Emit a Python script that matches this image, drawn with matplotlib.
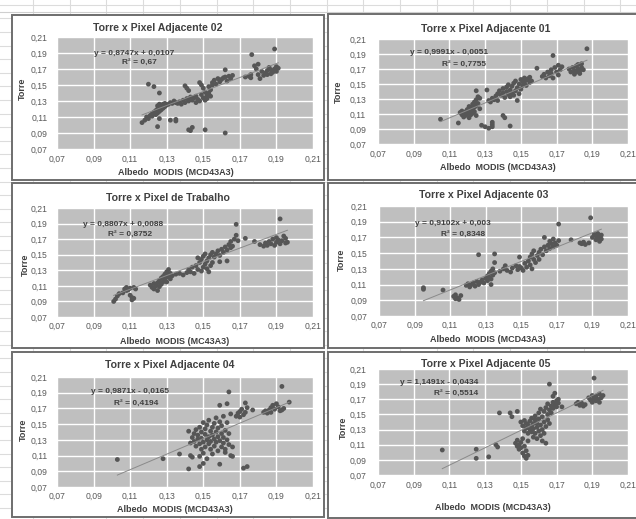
import numpy as np
import matplotlib
matplotlib.use('Agg')
import matplotlib.pyplot as plt
from matplotlib.patches import Rectangle
from matplotlib.ticker import FuncFormatter

plt.rcParams['font.family'] = ['Liberation Sans Narrow', 'Liberation Sans', 'DejaVu Sans']

# ---- dados (Albedo MODIS, Torre) ----
titulos = ['Torre x Pixel Adjacente 02', 'Torre x Pixel Adjacente 01',
           'Torre x Pixel de Trabalho', 'Torre x Pixel Adjacente 03',
           'Torre x Pixel Adjacente 04', 'Torre x Pixel Adjacente 05']
rotulos_x = ['Albedo  MODIS (MCD43A3)', 'Albedo  MODIS (MCD43A3)',
             'Albedo  MODIS (MC43A3)', 'Albedo  MODIS (MCD43A3)',
             'Albedo  MODIS (MCD43A3)', 'Albedo  MODIS (MCD43A3)']
equacoes = ['y = 0,8747x + 0,0107', 'y = 0,9991x - 0,0051', 'y = 0,8807x + 0,0088',
            'y = 0,9102x + 0,003', 'y = 0,9871x - 0,0165', 'y = 1,1491x - 0,0434']
r2 = ['R² = 0,67', 'R² = 0,7755', 'R² = 0,8752', 'R² = 0,8348', 'R² = 0,4194', 'R² = 0,5514']
inclinacao = [0.8747, 0.9991, 0.8807, 0.9102, 0.9871, 1.1491]
intercepto = [0.0107, -0.0051, 0.0088, 0.003, -0.0165, -0.0434]
ticks = [0.07, 0.09, 0.11, 0.13, 0.15, 0.17, 0.19, 0.21]

pontos_adj02 = [
    (0.1165, 0.103), (0.118, 0.106), (0.119, 0.110), (0.120, 0.108), (0.121, 0.112), (0.122, 0.111),
    (0.122, 0.114), (0.123, 0.116), (0.124, 0.113), (0.124, 0.118), (0.125, 0.115), (0.125, 0.120),
    (0.126, 0.117), (0.126, 0.122), (0.127, 0.119), (0.127, 0.124), (0.128, 0.121), (0.128, 0.126),
    (0.129, 0.123), (0.129, 0.127), (0.130, 0.125), (0.131, 0.126), (0.126, 0.126), (0.125, 0.124),
    (0.120, 0.151), (0.123, 0.148), (0.126, 0.140), (0.125, 0.098), (0.126, 0.108), (0.132, 0.106),
    (0.135, 0.107), (0.135, 0.105), (0.142, 0.094), (0.143, 0.093), (0.144, 0.097), (0.151, 0.094),
    (0.162, 0.090), (0.132, 0.128), (0.133, 0.127), (0.134, 0.130), (0.135, 0.128), (0.136, 0.127),
    (0.137, 0.129), (0.138, 0.126), (0.139, 0.131), (0.140, 0.128), (0.141, 0.133), (0.142, 0.130),
    (0.143, 0.135), (0.144, 0.131), (0.145, 0.134), (0.140, 0.149), (0.141, 0.146), (0.142, 0.143),
    (0.146, 0.136), (0.147, 0.132), (0.148, 0.153), (0.149, 0.150), (0.149, 0.138), (0.150, 0.134),
    (0.150, 0.146), (0.151, 0.131), (0.151, 0.141), (0.152, 0.137), (0.152, 0.133), (0.153, 0.140),
    (0.153, 0.148), (0.154, 0.136), (0.154, 0.144), (0.155, 0.150), (0.155, 0.153), (0.148, 0.130),
    (0.146, 0.128), (0.156, 0.156), (0.157, 0.151), (0.158, 0.158), (0.159, 0.154), (0.160, 0.157),
    (0.161, 0.159), (0.162, 0.169), (0.162, 0.160), (0.163, 0.155), (0.164, 0.161), (0.165, 0.158),
    (0.166, 0.162), (0.173, 0.160), (0.175, 0.161), (0.176, 0.159), (0.1765, 0.188), (0.178, 0.174),
    (0.179, 0.170), (0.180, 0.176), (0.180, 0.163), (0.181, 0.158), (0.182, 0.167), (0.183, 0.162),
    (0.184, 0.165), (0.185, 0.163), (0.185, 0.168), (0.186, 0.172), (0.189, 0.195), (0.187, 0.164),
    (0.187, 0.169), (0.188, 0.166), (0.189, 0.170), (0.190, 0.167), (0.190, 0.173), (0.191, 0.171),
    (0.176, 0.163)]

pontos_adj01 = [
    (0.105, 0.103), (0.115, 0.098), (0.116, 0.112), (0.117, 0.109), (0.117, 0.114), (0.118, 0.106),
    (0.118, 0.111), (0.119, 0.113), (0.119, 0.108), (0.120, 0.116), (0.120, 0.110), (0.121, 0.105),
    (0.121, 0.112), (0.121, 0.120), (0.122, 0.114), (0.122, 0.118), (0.122, 0.109), (0.123, 0.123),
    (0.123, 0.111), (0.123, 0.116), (0.124, 0.126), (0.124, 0.113), (0.124, 0.119), (0.125, 0.129),
    (0.125, 0.141), (0.125, 0.108), (0.125, 0.121), (0.126, 0.124), (0.126, 0.133), (0.127, 0.131),
    (0.127, 0.117), (0.128, 0.095), (0.130, 0.093), (0.132, 0.091), (0.134, 0.096), (0.134, 0.093),
    (0.134, 0.099), (0.140, 0.108), (0.141, 0.105), (0.144, 0.094), (0.131, 0.142), (0.132, 0.128),
    (0.133, 0.126), (0.134, 0.131), (0.135, 0.129), (0.136, 0.134), (0.137, 0.128), (0.137, 0.137),
    (0.138, 0.141), (0.139, 0.135), (0.140, 0.144), (0.140, 0.138), (0.141, 0.132), (0.142, 0.140),
    (0.142, 0.146), (0.143, 0.136), (0.143, 0.149), (0.144, 0.142), (0.144, 0.133), (0.145, 0.138),
    (0.145, 0.147), (0.146, 0.151), (0.146, 0.135), (0.147, 0.141), (0.147, 0.154), (0.148, 0.128),
    (0.148, 0.145), (0.149, 0.150), (0.149, 0.137), (0.150, 0.156), (0.150, 0.143), (0.151, 0.148),
    (0.151, 0.153), (0.152, 0.158), (0.152, 0.151), (0.153, 0.155), (0.153, 0.148), (0.154, 0.157),
    (0.155, 0.152), (0.155, 0.159), (0.156, 0.154), (0.159, 0.171), (0.162, 0.160), (0.163, 0.163),
    (0.164, 0.158), (0.165, 0.166), (0.166, 0.161), (0.167, 0.169), (0.167, 0.164), (0.168, 0.188),
    (0.168, 0.158), (0.169, 0.172), (0.170, 0.166), (0.171, 0.162), (0.171, 0.175), (0.172, 0.169),
    (0.173, 0.173), (0.177, 0.170), (0.178, 0.166), (0.179, 0.172), (0.180, 0.168), (0.180, 0.163),
    (0.181, 0.174), (0.181, 0.166), (0.182, 0.170), (0.182, 0.176), (0.183, 0.164), (0.183, 0.168),
    (0.184, 0.172), (0.184, 0.177), (0.185, 0.169), (0.187, 0.197)]

pontos_trabalho = [
    (0.101, 0.090), (0.102, 0.093), (0.103, 0.097), (0.104, 0.100), (0.106, 0.101), (0.107, 0.106),
    (0.108, 0.104), (0.108, 0.108), (0.109, 0.105), (0.110, 0.107), (0.110, 0.098), (0.111, 0.095),
    (0.111, 0.092), (0.112, 0.094), (0.112, 0.108), (0.113, 0.106), (0.121, 0.111), (0.122, 0.108),
    (0.123, 0.113), (0.123, 0.106), (0.124, 0.110), (0.125, 0.114), (0.125, 0.104), (0.126, 0.109),
    (0.126, 0.117), (0.127, 0.112), (0.127, 0.120), (0.128, 0.115), (0.128, 0.122), (0.129, 0.118),
    (0.129, 0.125), (0.130, 0.121), (0.130, 0.128), (0.131, 0.124), (0.131, 0.131), (0.132, 0.126),
    (0.132, 0.119), (0.133, 0.123), (0.130, 0.115), (0.135, 0.125), (0.137, 0.126), (0.139, 0.124),
    (0.141, 0.127), (0.142, 0.131), (0.143, 0.128), (0.144, 0.134), (0.145, 0.126), (0.146, 0.136),
    (0.147, 0.131), (0.147, 0.146), (0.148, 0.140), (0.149, 0.129), (0.149, 0.144), (0.150, 0.134),
    (0.150, 0.148), (0.151, 0.138), (0.151, 0.151), (0.152, 0.132), (0.152, 0.142), (0.153, 0.146),
    (0.153, 0.128), (0.154, 0.136), (0.154, 0.150), (0.155, 0.140), (0.155, 0.153), (0.156, 0.147),
    (0.157, 0.151), (0.158, 0.155), (0.159, 0.141), (0.159, 0.149), (0.160, 0.157), (0.161, 0.153),
    (0.162, 0.160), (0.163, 0.142), (0.163, 0.156), (0.164, 0.163), (0.165, 0.159), (0.165, 0.167),
    (0.166, 0.161), (0.167, 0.170), (0.168, 0.175), (0.168, 0.189), (0.169, 0.168), (0.173, 0.171),
    (0.178, 0.167), (0.181, 0.163), (0.183, 0.161), (0.184, 0.165), (0.185, 0.162), (0.186, 0.167),
    (0.187, 0.164), (0.188, 0.170), (0.189, 0.162), (0.190, 0.166), (0.190, 0.172), (0.191, 0.169),
    (0.192, 0.196), (0.192, 0.164), (0.193, 0.168), (0.194, 0.174), (0.195, 0.171), (0.195, 0.165),
    (0.196, 0.166)]

pontos_adj03 = [
    (0.095, 0.106), (0.095, 0.104), (0.106, 0.103), (0.112, 0.095), (0.113, 0.092), (0.113, 0.097),
    (0.114, 0.093), (0.115, 0.091), (0.116, 0.096), (0.119, 0.109), (0.120, 0.111), (0.121, 0.107),
    (0.122, 0.110), (0.123, 0.112), (0.124, 0.108), (0.125, 0.114), (0.126, 0.110), (0.127, 0.113),
    (0.126, 0.148), (0.128, 0.116), (0.129, 0.112), (0.130, 0.118), (0.131, 0.121), (0.131, 0.115),
    (0.132, 0.119), (0.132, 0.124), (0.133, 0.117), (0.133, 0.127), (0.134, 0.122), (0.134, 0.130),
    (0.135, 0.149), (0.135, 0.138), (0.135, 0.125), (0.133, 0.110), (0.138, 0.127), (0.140, 0.130),
    (0.141, 0.134), (0.142, 0.128), (0.144, 0.126), (0.145, 0.131), (0.147, 0.134), (0.148, 0.129),
    (0.149, 0.145), (0.149, 0.133), (0.150, 0.131), (0.151, 0.128), (0.152, 0.137), (0.153, 0.132),
    (0.154, 0.140), (0.155, 0.135), (0.155, 0.145), (0.156, 0.130), (0.156, 0.149), (0.157, 0.142),
    (0.157, 0.153), (0.158, 0.138), (0.159, 0.147), (0.160, 0.151), (0.160, 0.142), (0.161, 0.155),
    (0.162, 0.148), (0.163, 0.158), (0.163, 0.170), (0.164, 0.153), (0.165, 0.160), (0.166, 0.156),
    (0.166, 0.165), (0.167, 0.162), (0.168, 0.158), (0.168, 0.168), (0.169, 0.163), (0.170, 0.160),
    (0.171, 0.187), (0.171, 0.166), (0.178, 0.167), (0.183, 0.163), (0.184, 0.162), (0.185, 0.164),
    (0.186, 0.161), (0.188, 0.163), (0.189, 0.195), (0.190, 0.170), (0.191, 0.174), (0.192, 0.167),
    (0.192, 0.172), (0.193, 0.169), (0.193, 0.175), (0.194, 0.165), (0.194, 0.171), (0.195, 0.168),
    (0.195, 0.173)]

pontos_adj04 = [
    (0.103, 0.105), (0.128, 0.106), (0.137, 0.112), (0.142, 0.093), (0.143, 0.110), (0.144, 0.108),
    (0.148, 0.096), (0.150, 0.100), (0.159, 0.099), (0.142, 0.141), (0.143, 0.126), (0.144, 0.133),
    (0.145, 0.138), (0.145, 0.128), (0.146, 0.143), (0.146, 0.122), (0.147, 0.131), (0.147, 0.136),
    (0.148, 0.125), (0.148, 0.146), (0.148, 0.109), (0.149, 0.140), (0.149, 0.118), (0.149, 0.132),
    (0.150, 0.152), (0.150, 0.127), (0.150, 0.113), (0.151, 0.137), (0.151, 0.144), (0.151, 0.121),
    (0.152, 0.130), (0.152, 0.149), (0.152, 0.106), (0.153, 0.134), (0.153, 0.125), (0.153, 0.155),
    (0.154, 0.141), (0.154, 0.118), (0.154, 0.128), (0.155, 0.146), (0.155, 0.112), (0.155, 0.136),
    (0.156, 0.131), (0.156, 0.151), (0.156, 0.122), (0.157, 0.140), (0.157, 0.127), (0.157, 0.158),
    (0.158, 0.134), (0.158, 0.145), (0.158, 0.116), (0.159, 0.129), (0.159, 0.153), (0.159, 0.174),
    (0.160, 0.138), (0.160, 0.121), (0.160, 0.148), (0.161, 0.133), (0.161, 0.126), (0.161, 0.160),
    (0.162, 0.142), (0.162, 0.114), (0.162, 0.118), (0.163, 0.176), (0.163, 0.130), (0.163, 0.152),
    (0.164, 0.191), (0.164, 0.124), (0.164, 0.138), (0.165, 0.110), (0.165, 0.163), (0.166, 0.109),
    (0.166, 0.121), (0.168, 0.160), (0.169, 0.164), (0.170, 0.166), (0.170, 0.159), (0.171, 0.169),
    (0.172, 0.162), (0.172, 0.094), (0.173, 0.177), (0.173, 0.165), (0.174, 0.096), (0.174, 0.171),
    (0.177, 0.168), (0.183, 0.165), (0.184, 0.167), (0.185, 0.164), (0.186, 0.168), (0.187, 0.171),
    (0.187, 0.165), (0.188, 0.174), (0.189, 0.169), (0.190, 0.176), (0.191, 0.172), (0.192, 0.167),
    (0.193, 0.198), (0.193, 0.168), (0.194, 0.170), (0.197, 0.178)]

pontos_adj05 = [
    (0.106, 0.103), (0.125, 0.104), (0.125, 0.092), (0.132, 0.094), (0.136, 0.110), (0.137, 0.107),
    (0.138, 0.152), (0.144, 0.152), (0.145, 0.147), (0.148, 0.154), (0.147, 0.112), (0.148, 0.108),
    (0.148, 0.116), (0.149, 0.104), (0.149, 0.110), (0.150, 0.113), (0.150, 0.106), (0.151, 0.099),
    (0.151, 0.118), (0.152, 0.095), (0.152, 0.108), (0.153, 0.092), (0.153, 0.102), (0.154, 0.096),
    (0.154, 0.115), (0.150, 0.140), (0.151, 0.135), (0.152, 0.142), (0.152, 0.128), (0.153, 0.132),
    (0.153, 0.138), (0.154, 0.125), (0.154, 0.136), (0.155, 0.130), (0.155, 0.141), (0.156, 0.127),
    (0.156, 0.134), (0.156, 0.145), (0.157, 0.120), (0.157, 0.138), (0.157, 0.131), (0.158, 0.125),
    (0.158, 0.143), (0.158, 0.148), (0.159, 0.133), (0.159, 0.118), (0.159, 0.138), (0.160, 0.128),
    (0.160, 0.152), (0.160, 0.144), (0.161, 0.122), (0.161, 0.136), (0.161, 0.157), (0.162, 0.130),
    (0.162, 0.115), (0.162, 0.147), (0.163, 0.140), (0.163, 0.154), (0.163, 0.125), (0.164, 0.159),
    (0.164, 0.134), (0.164, 0.112), (0.165, 0.150), (0.165, 0.143), (0.165, 0.164), (0.166, 0.190),
    (0.166, 0.156), (0.166, 0.138), (0.167, 0.161), (0.167, 0.152), (0.168, 0.174), (0.168, 0.166),
    (0.168, 0.158), (0.169, 0.178), (0.169, 0.163), (0.170, 0.168), (0.170, 0.160), (0.171, 0.165),
    (0.173, 0.160), (0.171, 0.170), (0.181, 0.164), (0.182, 0.166), (0.183, 0.162), (0.184, 0.165),
    (0.185, 0.161), (0.186, 0.163), (0.188, 0.172), (0.189, 0.169), (0.190, 0.175), (0.190, 0.166),
    (0.191, 0.198), (0.191, 0.171), (0.192, 0.168), (0.192, 0.174), (0.193, 0.170), (0.194, 0.177),
    (0.194, 0.166), (0.195, 0.172), (0.196, 0.175)]

series = [pontos_adj02, pontos_adj01, pontos_trabalho, pontos_adj03, pontos_adj04, pontos_adj05]

# ---- layout em pixels (esq, topo, dir, base) ----
W, H = 636, 519
areas = [(57, 37, 313, 149), (378, 39, 628, 144),
         (57, 208, 313, 317), (379, 206, 628, 316),
         (57, 377, 313, 487), (378, 369, 628, 475)]
caixas = [(12, 15, 324, 180), (328, 14, 645, 180),
          (12, 183, 324, 348), (328, 183, 645, 348),
          (12, 352, 324, 517), (328, 352, 645, 518)]
pos_titulo = [(158, 28), (486, 29), (168, 198), (484, 195), (170, 365), (486, 364)]
pos_ylabel = [(22, 89), (338, 92), (25, 265), (341, 260), (23, 430), (343, 428)]
pos_xlabel = [(176, 173), (498, 167), (175, 342), (488, 339), (175, 510), (493, 508)]
pos_eq = [(0.30, 0.857, 0.32, 0.77), (0.284, 0.867, 0.344, 0.762), (0.258, 0.853, 0.285, 0.761),
          (0.297, 0.845, 0.337, 0.745), (0.285, 0.864, 0.31, 0.764), (0.244, 0.868, 0.312, 0.774)]
pad_x = [4.5, 4.5, 3.5, 3.5, 3.5, 4.5]
pad_y = [7, 8.5, 7, 8.5, 7, 8.5]

cinza_texto = '#404040'

fig = plt.figure(figsize=(W / 100, H / 100), dpi=100)

# fundo de planilha
fundo = fig.add_axes([0, 0, 1, 1])
fundo.set_xlim(0, W)
fundo.set_ylim(H, 0)
fundo.axis('off')
for xc in np.arange(33, W, 36.7):
    fundo.plot([xc, xc], [0, H], color='#dcdcdc', lw=0.8, zorder=0)
for yc in np.arange(4.7, H, 13.6):
    fundo.plot([0, W], [yc, yc], color='#dcdcdc', lw=0.8, zorder=0)
fundo.plot([0, W], [12, 12], color='#cfcfcf', lw=0.8, zorder=0)
for (l, t, r, b) in caixas:
    fundo.add_patch(Rectangle((l, t), r - l, b - t, facecolor='white',
                              edgecolor='#6e6e6e', lw=1.4, zorder=2))


def fmt(v, pos):
    return '{:.2f}'.format(v).replace('.', ',')


def px(x, y):
    return x / W, 1 - y / H


for i in range(6):
    l, t, r, b = areas[i]
    ax = fig.add_axes([l / W, 1 - b / H, (r - l) / W, (b - t) / H])
    ax.set_facecolor('#bfbfbf')
    ax.set_xlim(0.07, 0.21)
    ax.set_ylim(0.07, 0.21)
    ax.set_xticks(ticks)
    ax.set_yticks(ticks)
    ax.xaxis.set_major_formatter(FuncFormatter(fmt))
    ax.yaxis.set_major_formatter(FuncFormatter(fmt))
    ax.tick_params(length=0, labelsize=6.2, colors='#595959')
    ax.tick_params(axis='x', pad=pad_x[i])
    ax.tick_params(axis='y', pad=pad_y[i])
    ax.grid(True, color='white', lw=1.0)
    ax.set_axisbelow(True)
    for s in ax.spines.values():
        s.set_visible(False)

    dados = np.array(series[i])
    ax.scatter(dados[:, 0], dados[:, 1], s=12, color='#565656', edgecolors='none', zorder=3)
    xs = np.array([dados[:, 0].min(), dados[:, 0].max()])
    ax.plot(xs, inclinacao[i] * xs + intercepto[i], color='#8a8a8a', lw=0.7, zorder=4)

    ex, ey, rx, ry = pos_eq[i]
    ax.text(ex, ey, equacoes[i], transform=ax.transAxes, ha='center', va='center',
            fontsize=6, fontweight='bold', color=cinza_texto, zorder=5)
    ax.text(rx, ry, r2[i], transform=ax.transAxes, ha='center', va='center',
            fontsize=6, fontweight='bold', color=cinza_texto, zorder=5)

    fig.text(*px(*pos_titulo[i]), titulos[i], ha='center', va='center',
             fontsize=7.6, fontweight='bold', color=cinza_texto)
    fig.text(*px(*pos_ylabel[i]), 'Torre', ha='center', va='center', rotation=90,
             fontsize=6.5, fontweight='bold', color=cinza_texto)
    fig.text(*px(*pos_xlabel[i]), rotulos_x[i], ha='center', va='center',
             fontsize=6.5, fontweight='bold', color=cinza_texto)

fig.savefig('out.png', dpi=100)
